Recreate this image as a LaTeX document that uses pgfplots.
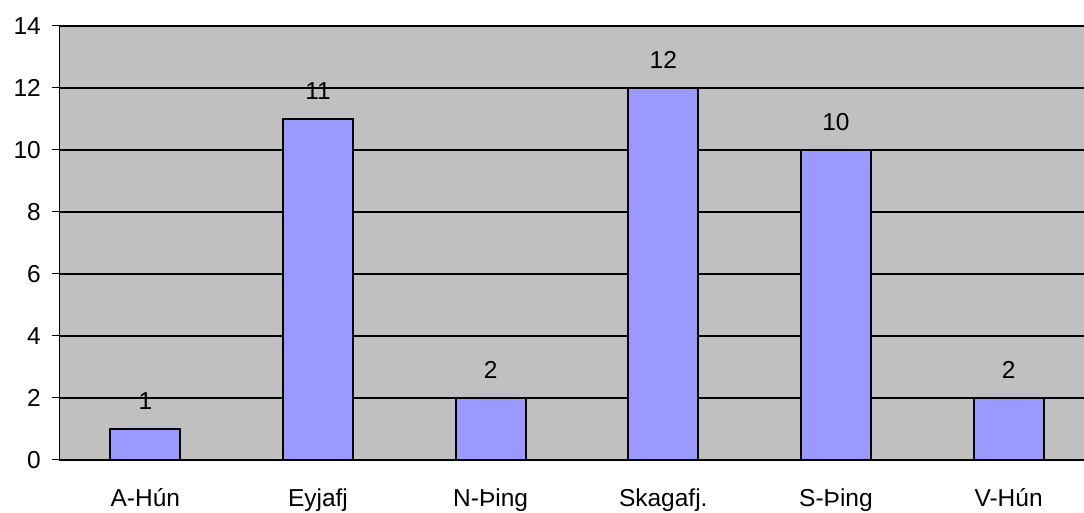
\documentclass[border=0pt]{standalone}
\usepackage{fontspec}
\setmainfont{Liberation Sans}
\usepackage{pgfplots}
\pgfplotsset{compat=1.18}
\definecolor{plotgray}{HTML}{C0C0C0}
\definecolor{barblue}{HTML}{9999FF}
\newcommand{\chartfont}{\fontsize{24.5}{28}\selectfont}
\begin{document}
\begin{tikzpicture}
\useasboundingbox (-59pt,-53pt) rectangle (1025pt,460pt);
\begin{axis}[
  scale only axis,
  width=1036pt, height=434pt,
  at={(0,0)}, anchor=south west,
  xmin=-0.5, xmax=5.5,
  ymin=0, ymax=14,
  ytick={0,2,...,14},
  xtick={0,1,2,3,4,5},
  xticklabels={A-Hún,Eyjafj,N-Þing,Skagafj.,S-Þing,V-Hún},
  axis x line=bottom, axis y line=left,
  axis line style={-, black, line width=1pt},
  axis background/.style={fill=plotgray},
  ymajorgrids, grid style={black, line width=1.2pt},
  tick align=outside,
  major tick length=7pt,
  ytick style={black, line width=1pt},
  xtick style={draw=none},
  /pgf/number format/assume math mode=true,
  tick label style={font=\chartfont},
  yticklabel style={anchor=east, inner sep=0pt, xshift=-11pt},
  xticklabel style={anchor=base, inner sep=0pt, yshift=-40pt},
  ybar, bar width=70pt,
  nodes near coords,
  every node near coord/.append style={font=\chartfont, anchor=south, inner sep=0pt, yshift=18pt, black},
  clip=false,
]
\addplot[fill=barblue, draw=black, line width=2pt] coordinates {
(0,1) (1,11) (2,2) (3,12) (4,10) (5,2)};
\end{axis}
\end{tikzpicture}
\end{document}
